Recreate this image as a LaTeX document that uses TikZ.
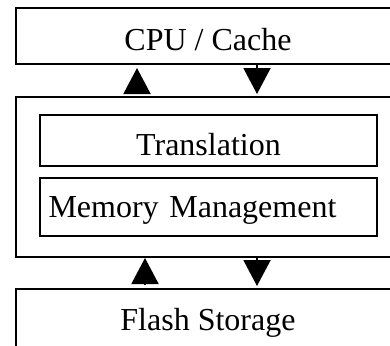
\documentclass[tikz,border=0pt]{standalone}
\usepackage{fontspec}
\setmainfont{Liberation Serif}
\usetikzlibrary{arrows.meta}

\tikzset{
  box/.style = {draw, line width=1pt, inner sep=0pt, text depth=0pt,
                font=\fontsize{16pt}{19pt}\selectfont},
  flow/.style = {line width=1pt, -{Triangle[width=13.5pt,length=13pt]}}
}

\begin{document}
\begin{tikzpicture}[x=0.5pt, y=-0.5pt]
        \clip (0,0) rectangle (390,345);
        \node[box, minimum width=192pt, minimum height=28pt, text height=14pt] (cpu) at (208,36) {CPU / Cache};
        \node[box, minimum width=192pt, minimum height=80pt] (mmu) at (208,177) {};
        \node[box, minimum width=168.5pt, minimum height=25.5pt, text height=14.5pt] (trans) at (208.5,140.5) {Translation};
        \node[box, minimum height=29pt, text height=10pt, text width=160pt, inner xsep=4.25pt, align=left] (mem) at (208.5,207) {Memory Management};
        \node[box, minimum width=192pt, minimum height=32pt, text height=9pt] (flash) at (208,321) {Flash Storage};
        \coordinate (ua) at (137,0);
        \coordinate (ub) at (145,0);
        \coordinate (da) at (257,0);
        \draw[flow, shorten <=1.5pt, shorten >=1.5pt] (mmu.north -| ua) -- (cpu.south -| ua);
        \draw[flow, shorten >=1pt] (cpu.south -| da) -- (mmu.north -| da);
        \draw[flow, shorten <=1.5pt] (flash.north -| ub) -- (mmu.south -| ub);
        \draw[flow, shorten >=1pt] (mmu.south -| da) -- (flash.north -| da);
      \end{tikzpicture}
\end{document}
